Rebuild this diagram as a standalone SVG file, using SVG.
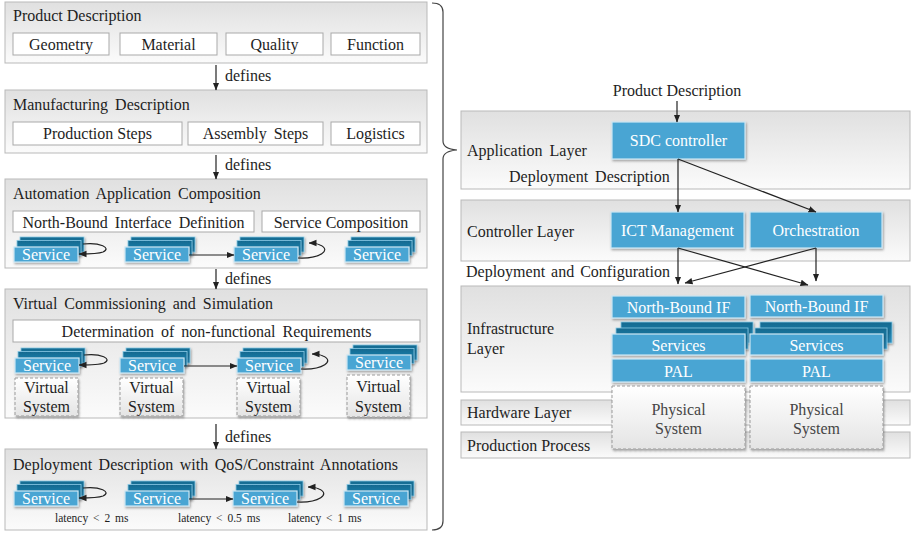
<svg xmlns="http://www.w3.org/2000/svg" xmlns:xlink="http://www.w3.org/1999/xlink" width="914" height="535" viewBox="0 0 914 535">
  <style>
    text { font-family: "Liberation Serif", "Times New Roman", serif; font-size: 16px; fill: #1e1e1e; }
    .mid { text-anchor: middle; }
    .w { fill: #ffffff; }
    .gy { fill: #454545; }
    .small { font-size: 11.5px; }
    .panel { fill: url(#panelGrad); stroke: #b9b9b9; stroke-width: 1; }
    .sub { fill: #ffffff; stroke: #a9a9a9; stroke-width: 1; }
    .blue { fill: #4aa5d3; stroke: #cbe6f4; stroke-width: 1.2; filter: url(#shadow); }
    .back { fill: url(#darkGrad); stroke: #8ccae6; stroke-width: 0.8; filter: url(#shadow); }
    .dash { fill: url(#dashGrad); stroke: #9a9a9a; stroke-width: 1; stroke-dasharray: 3 2; filter: url(#shadow); }
    .conn { fill: none; stroke: #222; stroke-width: 1.2; }
    .arr { marker-end: url(#head); }
  </style>
  <defs>
    <linearGradient id="panelGrad" x1="0" y1="0" x2="0" y2="1">
      <stop offset="0" stop-color="#e0e0e0"/>
      <stop offset="1" stop-color="#fbfbfb"/>
    </linearGradient>
    <linearGradient id="darkGrad" x1="0" y1="0" x2="0" y2="1">
      <stop offset="0" stop-color="#10698f"/>
      <stop offset="1" stop-color="#2b8fbf"/>
    </linearGradient>
    <linearGradient id="dashGrad" x1="0" y1="0" x2="0" y2="1">
      <stop offset="0" stop-color="#ffffff"/>
      <stop offset="1" stop-color="#e4e4e4"/>
    </linearGradient>
    <filter id="shadow" x="-20%" y="-30%" width="140%" height="170%">
      <feDropShadow dx="1" dy="1.5" stdDeviation="1" flood-color="#000" flood-opacity="0.35"/>
    </filter>
    <marker id="head" markerUnits="userSpaceOnUse" markerWidth="8" markerHeight="8" viewBox="0 0 8 8" refX="7.5" refY="4" orient="auto">
      <path d="M0,0.8 L8,4 L0,7.2 Z" fill="#222"/>
    </marker>
    <!-- stacked service icon: two darker layers behind a light front box -->
    <g id="stack">
      <rect x="6" y="-10" width="64" height="15" class="back"/>
      <rect x="3" y="-6.5" width="64" height="15" class="back"/>
      <rect x="0" y="0" width="64" height="15" class="blue"/>
    </g>
  </defs>

  <!-- ===== left column: engineering workflow ===== -->
  <g id="product-description">
    <rect x="5" y="2" width="422" height="61" class="panel"/>
    <text x="13" y="21">Product Description</text>
    <rect x="13" y="33" width="96" height="22" class="sub"/>
    <text x="61" y="50" class="mid">Geometry</text>
    <rect x="120" y="33" width="97" height="22" class="sub"/>
    <text x="168.5" y="50" class="mid">Material</text>
    <rect x="226" y="33" width="97" height="22" class="sub"/>
    <text x="274.5" y="50" class="mid">Quality</text>
    <rect x="331" y="33" width="89" height="22" class="sub"/>
    <text x="375.5" y="50" class="mid">Function</text>
  </g>

  <g id="manufacturing-description">
    <rect x="5" y="90" width="422" height="63" class="panel"/>
    <text x="13" y="110" word-spacing="3">Manufacturing Description</text>
    <rect x="13" y="122" width="169" height="23" class="sub"/>
    <text x="97.5" y="139" class="mid">Production Steps</text>
    <rect x="188" y="122" width="135" height="23" class="sub"/>
    <text x="255.5" y="139" class="mid" word-spacing="3">Assembly Steps</text>
    <rect x="331" y="122" width="89" height="23" class="sub"/>
    <text x="375.5" y="139" class="mid">Logistics</text>
  </g>

  <g id="automation-application-composition">
    <rect x="5" y="179" width="422" height="89" class="panel"/>
    <text x="13" y="199" word-spacing="3">Automation Application Composition</text>
    <rect x="13" y="211" width="241" height="21" class="sub"/>
    <text x="133.5" y="228" class="mid" word-spacing="3">North-Bound Interface Definition</text>
    <rect x="262" y="211" width="158" height="21" class="sub"/>
    <text x="341" y="228" class="mid">Service Composition</text>
    <use xlink:href="#stack" x="14" y="247"/>
    <text x="46" y="260" class="mid w">Service</text>
    <use xlink:href="#stack" x="125" y="247"/>
    <text x="157" y="260" class="mid w">Service</text>
    <use xlink:href="#stack" x="234" y="247"/>
    <text x="266" y="260" class="mid w">Service</text>
    <use xlink:href="#stack" x="345" y="247"/>
    <text x="377" y="260" class="mid w">Service</text>
  </g>

  <g id="virtual-commissioning">
    <rect x="5" y="289" width="422" height="129" class="panel"/>
    <text x="13" y="309" word-spacing="3">Virtual Commissioning and Simulation</text>
    <rect x="13" y="320" width="407" height="22" class="sub"/>
    <text x="216.5" y="337" class="mid" word-spacing="3">Determination of non-functional Requirements</text>
    <use xlink:href="#stack" x="15" y="358"/>
    <text x="47" y="371" class="mid w">Service</text>
    <rect x="15" y="378" width="63" height="38" class="dash"/>
    <text x="46.5" y="393" class="mid">Virtual</text>
    <text x="46.5" y="412" class="mid">System</text>
    <use xlink:href="#stack" x="120" y="358"/>
    <text x="152" y="371" class="mid w">Service</text>
    <rect x="120" y="378" width="63" height="38" class="dash"/>
    <text x="151.5" y="393" class="mid">Virtual</text>
    <text x="151.5" y="412" class="mid">System</text>
    <use xlink:href="#stack" x="237" y="358"/>
    <text x="269" y="371" class="mid w">Service</text>
    <rect x="237" y="378" width="63" height="38" class="dash"/>
    <text x="268.5" y="393" class="mid">Virtual</text>
    <text x="268.5" y="412" class="mid">System</text>
    <use xlink:href="#stack" x="347" y="355"/>
    <text x="379" y="368" class="mid w">Service</text>
    <rect x="347" y="375" width="63" height="42" class="dash"/>
    <text x="378.5" y="392" class="mid">Virtual</text>
    <text x="378.5" y="412" class="mid">System</text>
  </g>

  <g id="deployment-description">
    <rect x="5" y="449" width="422" height="81" class="panel"/>
    <text x="13" y="470" word-spacing="2.5">Deployment Description with QoS/Constraint Annotations</text>
    <use xlink:href="#stack" x="14" y="491"/>
    <text x="46" y="504" class="mid w">Service</text>
    <use xlink:href="#stack" x="125" y="491"/>
    <text x="157" y="504" class="mid w">Service</text>
    <use xlink:href="#stack" x="233" y="491"/>
    <text x="265" y="504" class="mid w">Service</text>
    <use xlink:href="#stack" x="344" y="491"/>
    <text x="376" y="504" class="mid w">Service</text>
    <text x="55" y="522" class="small" word-spacing="2">latency &lt; 2 ms</text>
    <text x="178" y="522" class="small" word-spacing="2">latency &lt; 0.5 ms</text>
    <text x="288" y="522" class="small" word-spacing="2">latency &lt; 1 ms</text>
  </g>

  <!-- brace joining the workflow to the layer model -->
  <g id="brace">
    <path d="M432,3 Q443,3 443,12 L443,141 Q443,149 457,150 Q443,151 443,159 L443,521 Q443,530 432,530" fill="none" stroke="#444" stroke-width="1.2"/>
  </g>

  <!-- ===== right column: layered architecture ===== -->
  <g id="application-layer">
    <rect x="461" y="111" width="449" height="78" class="panel"/>
    <text x="467" y="156" word-spacing="3">Application Layer</text>
  </g>
  <g id="controller-layer">
    <rect x="461" y="200" width="449" height="61" class="panel"/>
    <text x="467" y="237">Controller Layer</text>
  </g>
  <g id="infrastructure-layer">
    <rect x="461" y="286" width="449" height="106" class="panel"/>
    <text x="467" y="334">Infrastructure</text>
    <text x="467" y="354">Layer</text>
  </g>
  <g id="hardware-layer">
    <rect x="461" y="400" width="449" height="25" class="panel"/>
    <text x="467" y="418">Hardware Layer</text>
  </g>
  <g id="production-process">
    <rect x="461" y="432" width="449" height="26" class="panel"/>
    <text x="467" y="451">Production Process</text>
  </g>

  <g id="sdc-controller">
    <rect x="612" y="122" width="133" height="37" class="blue"/>
    <text x="678.5" y="146" class="mid w">SDC controller</text>
  </g>
  <g id="ict-management">
    <rect x="611" y="212" width="133" height="36" class="blue"/>
    <text x="677.5" y="236" class="mid w">ICT Management</text>
  </g>
  <g id="orchestration">
    <rect x="750" y="212" width="132" height="36" class="blue"/>
    <text x="816" y="236" class="mid w">Orchestration</text>
  </g>

  <g id="device-1">
    <rect x="612" y="296" width="133" height="22" class="blue"/>
    <text x="678.5" y="312.5" class="mid w">North-Bound IF</text>
    <rect x="621" y="322" width="132" height="21" class="back"/>
    <rect x="616" y="328" width="132" height="21" class="back"/>
    <rect x="612" y="334" width="133" height="21" class="blue"/>
    <text x="678.5" y="350.5" class="mid w">Services</text>
    <rect x="612" y="359" width="133" height="23" class="blue"/>
    <text x="678.5" y="377" class="mid w">PAL</text>
    <rect x="612" y="386" width="133" height="63" class="dash"/>
    <text x="678.5" y="415" class="mid gy">Physical</text>
    <text x="678.5" y="434" class="mid gy">System</text>
  </g>
  <g id="device-2">
    <rect x="750" y="295" width="133" height="22" class="blue"/>
    <text x="816.5" y="311.5" class="mid w">North-Bound IF</text>
    <rect x="760" y="322" width="132" height="21" class="back"/>
    <rect x="755" y="328" width="132" height="21" class="back"/>
    <rect x="750" y="334" width="133" height="21" class="blue"/>
    <text x="816.5" y="350.5" class="mid w">Services</text>
    <rect x="750" y="359" width="133" height="23" class="blue"/>
    <text x="816.5" y="377" class="mid w">PAL</text>
    <rect x="750" y="386" width="133" height="63" class="dash"/>
    <text x="816.5" y="415" class="mid gy">Physical</text>
    <text x="816.5" y="434" class="mid gy">System</text>
  </g>

  <!-- ===== connectors ===== -->
  <g id="connectors">
    <!-- workflow steps -->
    <line x1="216" y1="65" x2="216" y2="90" class="conn arr"/>
    <text x="225" y="81">defines</text>
    <line x1="216" y1="155" x2="216" y2="179" class="conn arr"/>
    <text x="225" y="170">defines</text>
    <line x1="216" y1="269" x2="216" y2="289" class="conn arr"/>
    <text x="225" y="284">defines</text>
    <line x1="216" y1="424" x2="216" y2="449" class="conn arr"/>
    <text x="225" y="442">defines</text>

    <!-- service composition links -->
    <path d="M83,244 C100,242 112,248 103,252 C98,254 90,254 79,254" class="conn arr"/>
    <line x1="189" y1="255" x2="234" y2="255" class="conn arr"/>
    <path d="M298,258 C320,259 332,250 320,245 C316,243 313,243 309,243" class="conn arr"/>

    <path d="M84,355 C101,353 113,359 104,363 C99,365 91,365 79,365" class="conn arr"/>
    <line x1="184" y1="366" x2="237" y2="366" class="conn arr"/>
    <path d="M301,369 C323,370 335,361 323,356 C319,354 316,354 312,354" class="conn arr"/>

    <path d="M83,488 C100,486 112,492 103,496 C98,498 90,498 79,498" class="conn arr"/>
    <line x1="189" y1="499" x2="233" y2="499" class="conn arr"/>
    <path d="M297,502 C319,503 331,494 319,489 C315,487 312,487 308,487" class="conn arr"/>

    <!-- layer model flow -->
    <text x="677" y="96" class="mid">Product Description</text>
    <line x1="677" y1="101" x2="677" y2="122" class="conn arr"/>
    <text x="509" y="182" word-spacing="3">Deployment Description</text>
    <line x1="678" y1="159" x2="678" y2="212" class="conn arr"/>
    <line x1="678" y1="159" x2="816" y2="212" class="conn arr"/>
    <text x="466" y="277" word-spacing="2">Deployment and Configuration</text>
    <line x1="678" y1="248" x2="678" y2="284" class="conn arr"/>
    <line x1="678" y1="248" x2="808" y2="285" class="conn arr"/>
    <line x1="816" y1="248" x2="816" y2="281" class="conn arr"/>
    <line x1="816" y1="248" x2="685" y2="283" class="conn arr"/>
  </g>
</svg>
